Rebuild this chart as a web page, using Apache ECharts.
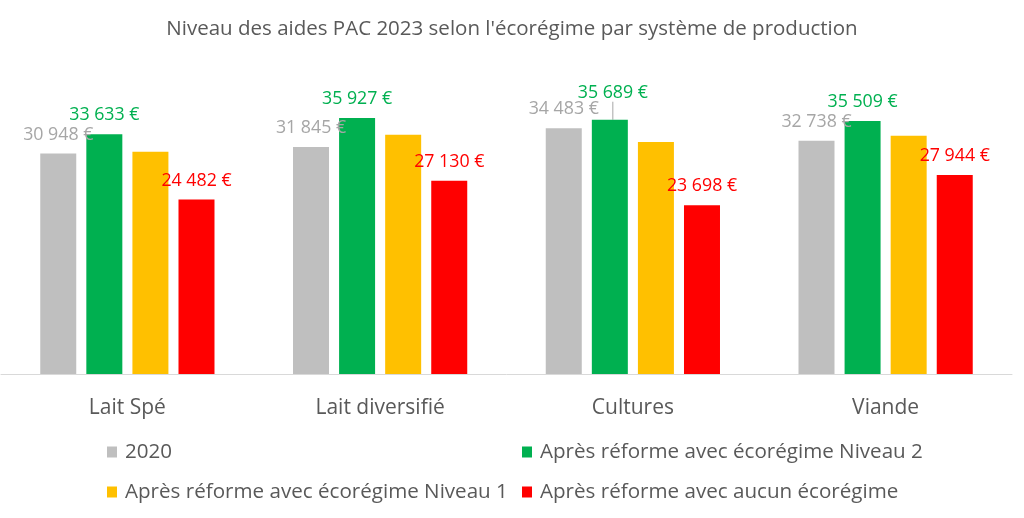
<!DOCTYPE html>
<html>
<head>
<meta charset="utf-8">
<script src="https://cdn.jsdelivr.net/npm/echarts@6/dist/echarts.min.js"></script>
<style>
  html, body { margin: 0; padding: 0; background: #fff; }
  #chart { width: 1024px; height: 518px; }
</style>
</head>
<body>
<div id="chart"></div>
<script>
/** 数据 */
var categories = ['Lait Spé', 'Lait diversifié', 'Cultures', 'Viande'];
var seriesNames = [
  '2020',
  'Après réforme avec écorégime Niveau 2',
  'Après réforme avec écorégime Niveau 1',
  'Après réforme avec aucun écorégime'
];
var values2020 = [30948, 31845, 34483, 32738];
var valuesNiveau2 = [33633, 35927, 35689, 35509];
var valuesNiveau1 = [31190, 33580, 32550, 33440]; // pas d'étiquette
var valuesAucun = [24482, 27130, 23698, 27944];

/** 样式 */
var font = 'Open Sans';
var colors = ['#BFBFBF', '#00B050', '#FFC000', '#FF0000'];
var labelColors = ['#A6A6A6', '#00B050', null, '#FF0000'];

// format "30 948 €"
var fmtEuro = function(v) {
  var s = String(Math.round(v));
  return s.replace(/\B(?=(\d{3})+(?!\d))/g, ' ') + ' €';
};

var makeSeries = function(i, data) {
  var s = {
    name: seriesNames[i],
    type: 'bar',
    data: data,
    barWidth: 36,
    barGap: '28%',
    itemStyle: { color: colors[i] },
    label: { show: false }
  };
  if (labelColors[i]) {
    s.label = {
      show: true,
      position: 'top',
      distance: 10,
      fontFamily: font,
      fontSize: 17.8,
      color: labelColors[i],
      formatter: function(p) { return fmtEuro(p.value); }
    };
  }
  return s;
};

var series = [
  makeSeries(0, values2020),
  makeSeries(1, valuesNiveau2.map(function(v, k) {
    // Cultures : trait de rappel seulement pour cette étiquette
    return k === 2 ? { value: v, labelLine: { show: true } } : { value: v, labelLine: { show: false } };
  })),
  makeSeries(2, valuesNiveau1),
  makeSeries(3, valuesAucun)
];
series[1].labelLayout = function(p) {
  if (p.dataIndex === 2) return { dy: -8, dx: 3 };
};
series[1].labelLine = { show: false, lineStyle: { color: '#A6A6A6', width: 1 } };

var legendText = { fontFamily: font, fontSize: 20.6, lineHeight: 24, color: '#595959', padding: [0, 0, 0, 3] };

var option = {
  animation: false,
  title: {
    text: 'Niveau des aides PAC 2023 selon l\'écorégime par système de production',
    left: 'center',
    top: 14,
    textStyle: { fontFamily: font, fontSize: 20.5, fontWeight: 'normal', color: '#595959' }
  },
  legend: [
    {
      data: [seriesNames[0], seriesNames[2]],
      orient: 'vertical',
      left: 102, top: 435,
      itemWidth: 10, itemHeight: 11, itemGap: 16,
      icon: 'rect',
      textStyle: legendText
    },
    {
      data: [seriesNames[1], seriesNames[3]],
      orient: 'vertical',
      left: 517, top: 435,
      itemWidth: 10, itemHeight: 11, itemGap: 16,
      icon: 'rect',
      textStyle: legendText
    }
  ],
  grid: { left: 1, right: 12, top: 89, bottom: 144, containLabel: false },
  xAxis: {
    type: 'category',
    data: categories,
    axisLine: { lineStyle: { color: '#D9D9D9', width: 1 } },
    axisTick: { show: false },
    axisLabel: { margin: 24, fontFamily: font, fontSize: 21, color: '#595959' }
  },
  yAxis: {
    type: 'value',
    min: 0, max: 40000,
    show: false,
    splitLine: { show: false }
  },
  series: series
};

var myChart = echarts.init(document.getElementById('chart'));
myChart.setOption(option);
</script>
</body>
</html>
